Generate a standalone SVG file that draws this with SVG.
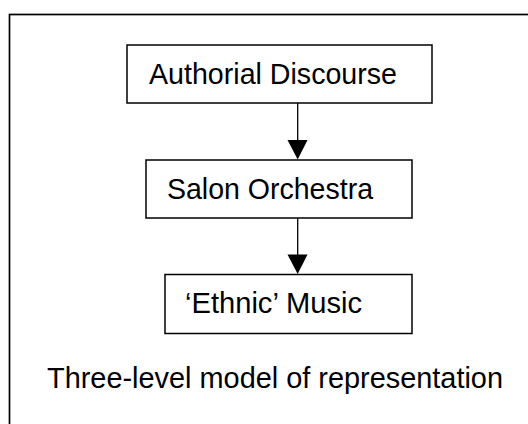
<svg xmlns="http://www.w3.org/2000/svg" width="528" height="424" viewBox="0 0 528 424">
<style>
.box{fill:#fff;stroke:#000;stroke-width:1.5}
.t{font-family:"Liberation Sans",Arial,sans-serif;font-size:29.5px;fill:#000}
.ln{stroke:#000;stroke-width:1.3;fill:none}
</style>
<rect width="528" height="424" fill="#fff"/>
<rect x="9.5" y="14.5" width="530" height="420" fill="none" stroke="#000" stroke-width="1.7"/>
<g id="connectors">
<line class="ln" x1="297.7" y1="103" x2="297.7" y2="141"/>
<polygon points="287.5,140 307.5,140 297.7,159.5"/>
<line class="ln" x1="297.7" y1="218" x2="297.7" y2="255"/>
<polygon points="287.5,254.5 307.5,254.5 297.7,274"/>
</g>
<g id="node1"><rect class="box" x="127" y="45" width="305" height="58"/><text class="t" x="149" y="84" textLength="248" lengthAdjust="spacingAndGlyphs">Authorial Discourse</text></g>
<g id="node2"><rect class="box" x="146" y="160" width="266" height="58"/><text class="t" x="167" y="198.5" textLength="206" lengthAdjust="spacingAndGlyphs">Salon Orchestra</text></g>
<g id="node3"><rect class="box" x="165" y="274.5" width="247" height="59"/><text class="t" x="185" y="312.5" textLength="177" lengthAdjust="spacingAndGlyphs">‘Ethnic’ Music</text></g>
<g id="caption"><text class="t" x="47" y="388" textLength="456" lengthAdjust="spacingAndGlyphs">Three-level model of representation</text></g>
</svg>
